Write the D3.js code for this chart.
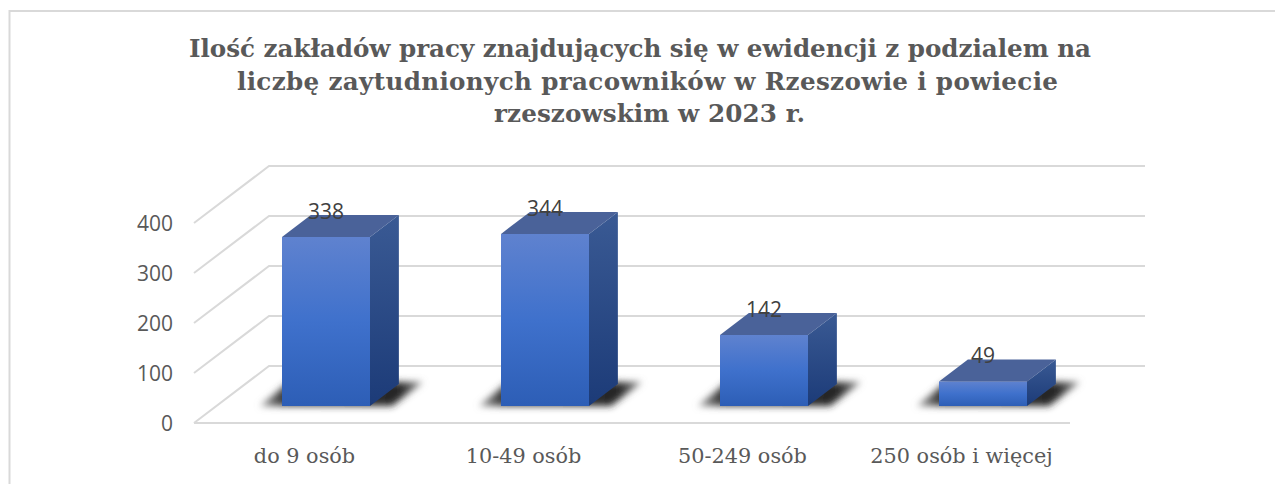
<!DOCTYPE html>
<html lang="pl">
<head>
<meta charset="UTF-8">
<title>Ilość zakładów pracy</title>
<script src="https://cdn.jsdelivr.net/npm/d3@7/dist/d3.min.js"></script>
<style>
  html, body { margin: 0; padding: 0; background: #fff; overflow: hidden; }
  svg { display: block; }
  .title { font-family: "DejaVu Serif", serif; font-weight: bold; font-size: 24.6px; fill: #595959; text-anchor: middle; }
  .ytick { font-family: "Open Sans", sans-serif; font-size: 21px; fill: #595959; text-anchor: end; }
  .xtick { font-family: "DejaVu Serif", serif; font-size: 20.8px; fill: #595959; text-anchor: middle; }
  .val { font-family: "Open Sans", sans-serif; font-size: 21px; fill: #404040; text-anchor: middle; }
</style>
</head>
<body>
<script>
var categories = ["do 9 osób", "10-49 osób", "50-249 osób", "250 osób i więcej"];
var values = [338, 344, 142, 49];
var yTicks = [0, 100, 200, 300, 400];
var titleLines = [
  "Ilość zakładów pracy znajdujących się w ewidencji z podzialem na",
  "liczbę zaytudnionych pracowników w Rzeszowie i powiecie",
  "rzeszowskim w 2023 r."
];

var width = 1275, height = 484;
var svg = d3.select("body").append("svg").attr("width", width).attr("height", height);

// front plane of the 3d box, everything else is pushed back along depth
var x = d3.scaleBand().domain(categories).range([194, 1070]).paddingInner(0).paddingOuter(0);
var y = d3.scaleLinear().domain([0, 400]).range([423, 223]);
var depthX = d3.scaleLinear().domain([0, 1]).range([0, 75]);
var depthY = d3.scaleLinear().domain([0, 1]).range([0, -57]);
function pt(px, py, d) { return [px + depthX(d), py + depthY(d)]; }
var line = d3.line();

var defs = svg.append("defs");
function grad(id, stops, horizontal) {
  var g = defs.append("linearGradient").attr("id", id).attr("x1", 0).attr("y1", 0)
    .attr("x2", horizontal ? 1 : 0).attr("y2", horizontal ? 0 : 1);
  stops.forEach(function(s) { g.append("stop").attr("offset", s[0]).attr("stop-color", s[1]); });
}
grad("front", [[0, "#5f82cf"], [0.5, "#3f71cc"], [1, "#2d5eb6"]]);
grad("side", [[0, "#3a5a94"], [1, "#1c3b78"]]);
grad("shadow", [[0, "#a0a0a0"], [0.14, "#3a3a3a"], [0.86, "#262626"], [1, "#909090"]], true);
defs.append("filter").attr("id", "blur").attr("x", "-20%").attr("y", "-50%").attr("width", "140%").attr("height", "200%")
  .append("feGaussianBlur").attr("stdDeviation", 3.5);

// chart frame, the right and bottom edges run off the picture
svg.append("path").attr("fill", "none").attr("stroke", "#d9d9d9").attr("stroke-width", 2)
  .attr("d", line([[9.5, height], [9.5, 11], [width, 11]]));

// gridlines: back wall, side wall, and floor front edge
yTicks.forEach(function(t) {
  svg.append("path").attr("fill", "none").attr("stroke", "#d9d9d9").attr("stroke-width", 2)
    .attr("d", line([pt(x.range()[0], y(t), 0), pt(x.range()[0], y(t), 1), pt(x.range()[1], y(t), 1)]));
  svg.append("text").attr("class", "ytick").attr("x", 173).attr("y", y(t)).attr("dy", "0.36em").text(t);
});
svg.append("path").attr("fill", "none").attr("stroke", "#d9d9d9").attr("stroke-width", 2)
  .attr("d", line([pt(x.range()[0], y(0), 0), pt(x.range()[1], y(0), 0)]));

// bars
var barW = 88, d0 = 0.3, d1 = 0.685;
categories.forEach(function(c, i) {
  var cx = x(c) + x.bandwidth() / 2 + depthX(d0);
  var l = cx - depthX(d0) - barW / 2, r = l + barW;
  var top = y(values[i]), base = y(0);

  // shadow on the floor, offset from the bar base
  var a = pt(l, base, d0), b = pt(r, base, d0), e = pt(r, base, d1), f = pt(l, base, d1);
  svg.append("path").attr("fill", "url(#shadow)").attr("filter", "url(#blur)")
    .attr("d", line([[a[0] - 22, a[1]], [b[0] + 22, b[1]], [e[0] + 24, e[1] - 2], [f[0] - 22, f[1] - 2]]) + "Z");

  // top, side, front
  svg.append("path").attr("fill", "#4a6299")
    .attr("d", line([pt(l, top, d0), pt(r, top, d0), pt(r, top, d1), pt(l, top, d1)]) + "Z");
  svg.append("path").attr("fill", "url(#side)")
    .attr("d", line([pt(r, top, d0), pt(r, top, d1), pt(r, base, d1), pt(r, base, d0)]) + "Z");
  svg.append("path").attr("fill", "url(#front)")
    .attr("d", line([pt(l, top, d0), pt(r, top, d0), pt(r, base, d0), pt(l, base, d0)]) + "Z");

  svg.append("text").attr("class", "val").attr("x", cx).attr("y", top + depthY(d0) - 18).text(values[i]);
  svg.append("text").attr("class", "xtick").attr("x", x(c) + x.bandwidth() / 2 + 1).attr("y", 463).text(c);
});

// the wrapped title lines are not centred alike in the original
var titleX = [640, 647.5, 649.5], titleLen = [902, 821, 311];
titleLines.forEach(function(t, i) {
  svg.append("text").attr("class", "title").attr("x", titleX[i]).attr("y", 57 + i * 32.5)
    .attr("textLength", titleLen[i]).attr("lengthAdjust", "spacing").text(t);
});
</script>
</body>
</html>
